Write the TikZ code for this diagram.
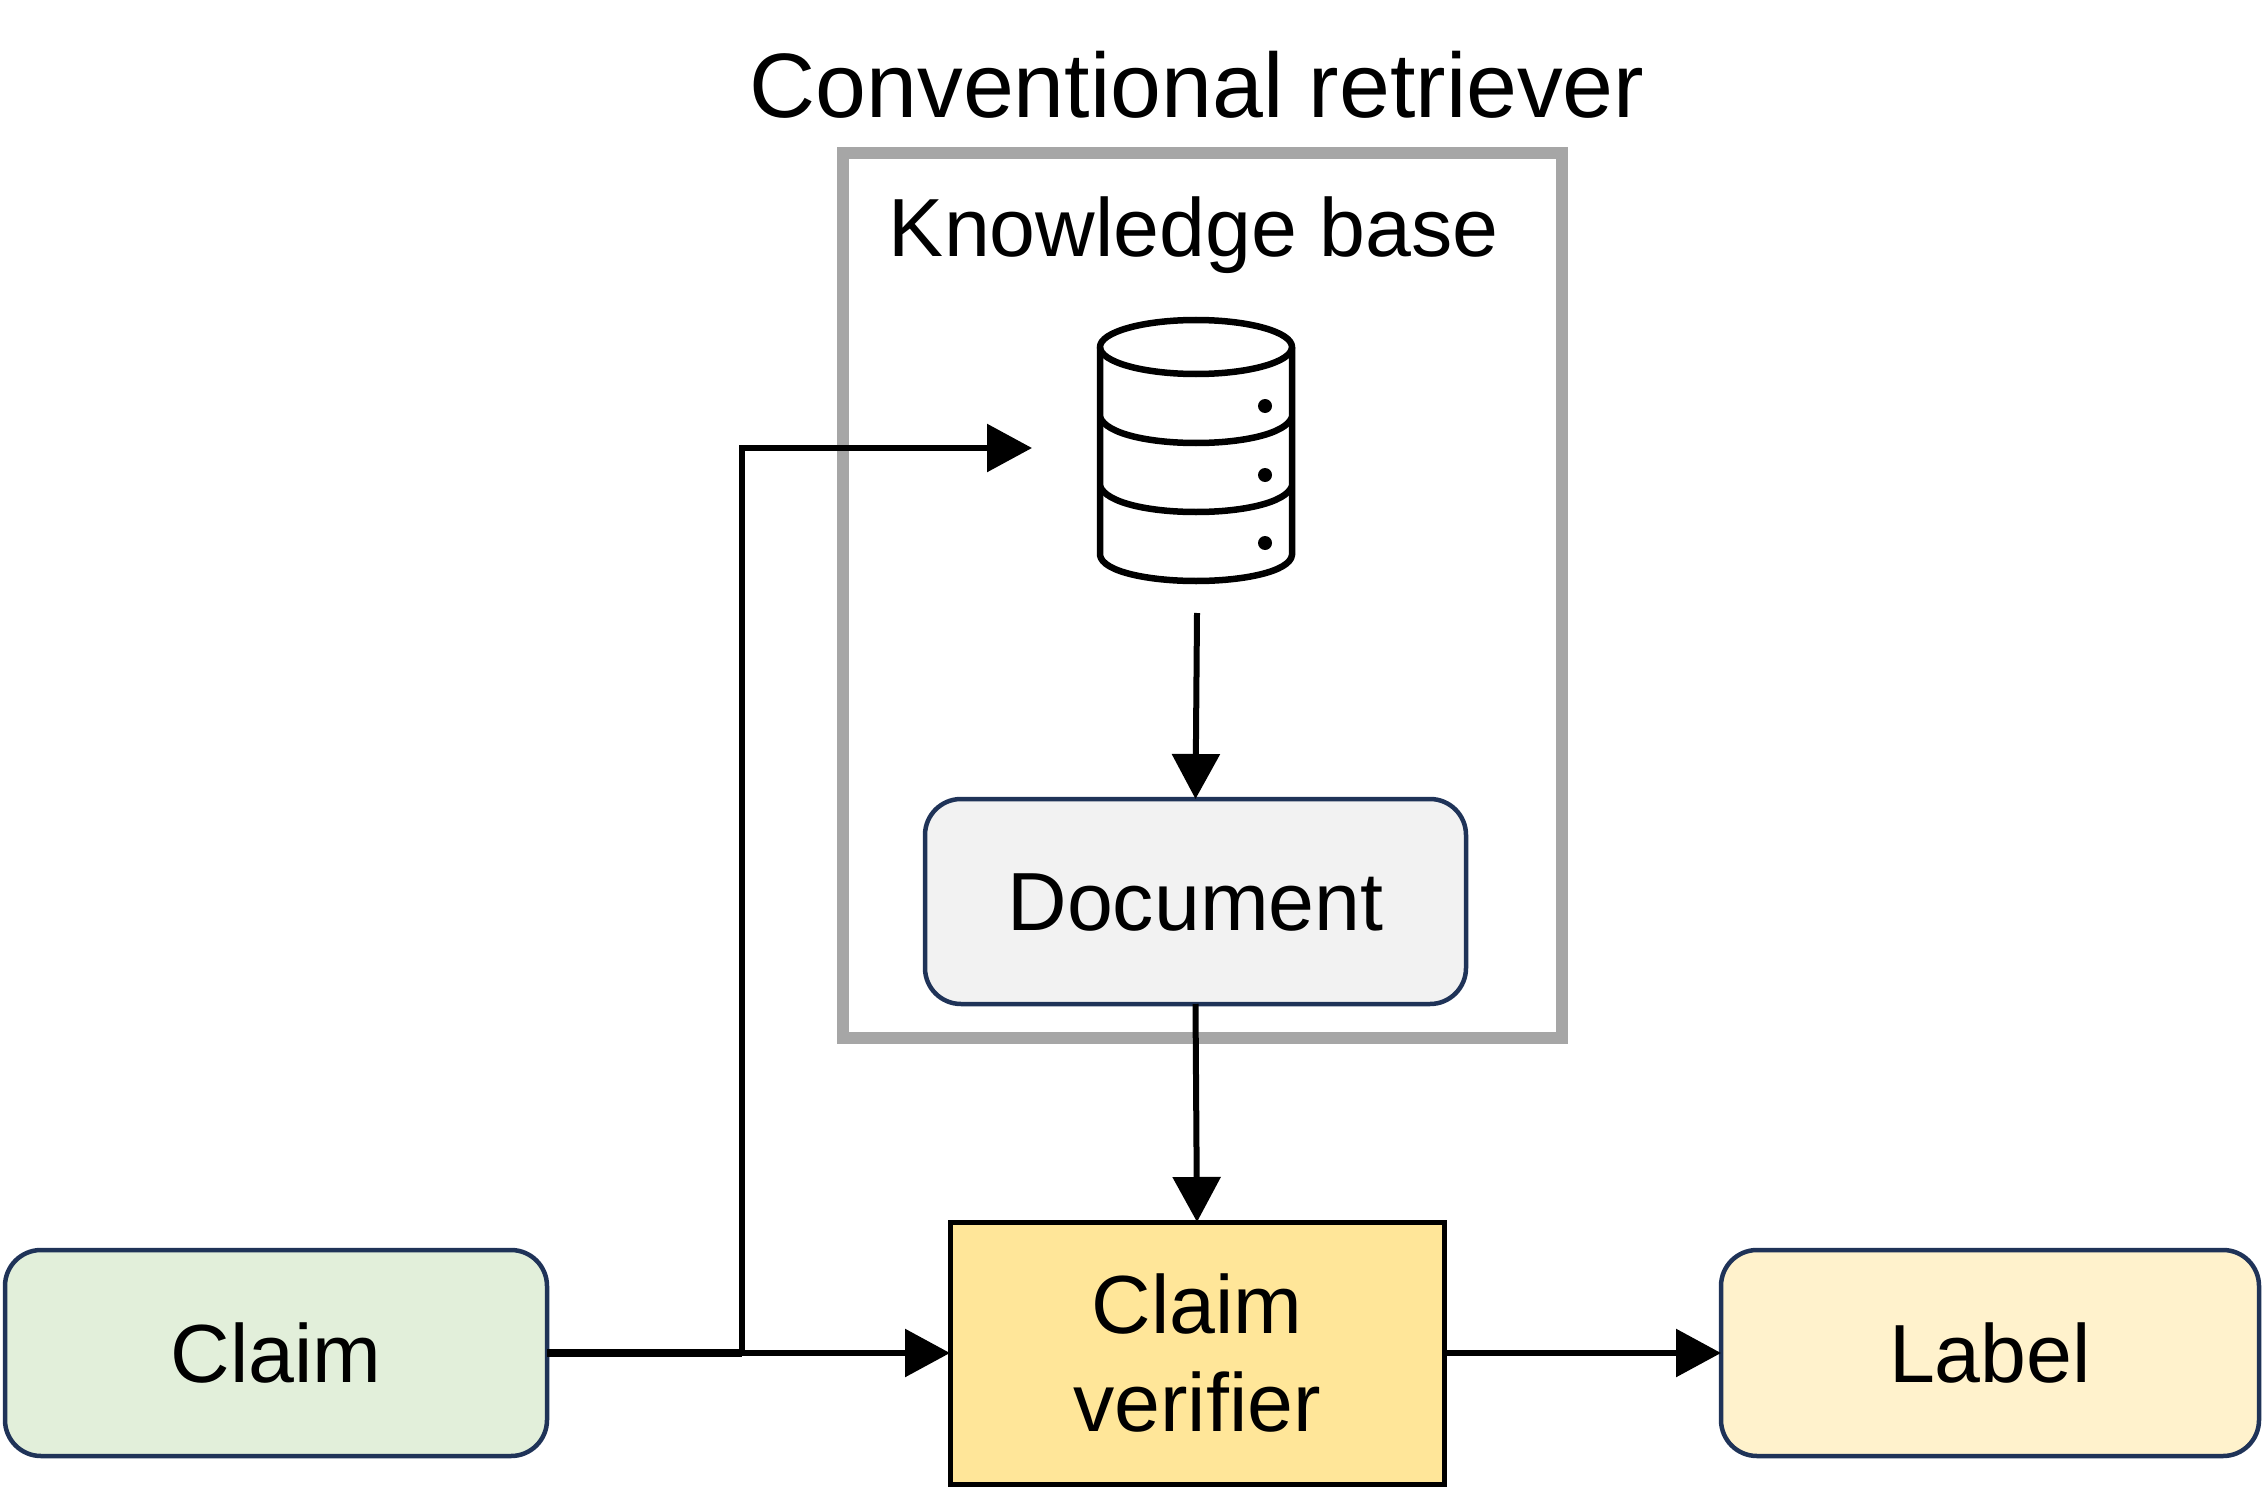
\documentclass[tikz,border=0pt]{standalone}
\usepackage{fontspec}
\setmainfont{Liberation Sans}
\usetikzlibrary{arrows.meta}
\definecolor{navy}{HTML}{1F3358}
\definecolor{frameg}{HTML}{A6A6A6}
\tikzset{
  roundbox/.style={draw=navy,line width=4.5pt,rounded corners=36pt,outer sep=0pt,inner sep=0pt,align=center,font=\fontsize{82.5}{98}\selectfont},
  flow/.style={line width=6pt,-{Triangle[length=45pt,width=47pt]}},
  dbline/.style={line width=6.5pt,line join=round},
  ghost/.style={inner sep=0pt,outer sep=0pt,minimum width=330pt,minimum height=330pt},
  caption/.style={inner sep=0pt,outer sep=0pt,anchor=base},
}
\begin{document}
\begin{tikzpicture}[x=1pt,y=-1pt]
\useasboundingbox (0,0) rectangle (2264,1503);
\fill[white] (0,0) rectangle (2264,1503);
% frame
\draw[frameg,line width=12pt] (843,153) rectangle (1562,1038);
\node[caption,font=\fontsize{91.5}{100}\selectfont] (title) at (1197,118) {Conventional retriever};
\node[caption,font=\fontsize{82.5}{98}\selectfont] (kb) at (1194,257) {Knowledge base};
% database
\node[ghost] (db) at (1197,448) {};
\draw[dbline] (1196,347) ellipse [x radius=96,y radius=27];
\draw[dbline] (1100,347) -- (1100,555) .. controls (1102,572) and (1150,581) .. (1196,581) .. controls (1242,581) and (1290,572) .. (1292,555) -- (1292,347);
\draw[dbline] (1100,417) .. controls (1106,434) and (1150,443) .. (1196,443) .. controls (1242,443) and (1286,434) .. (1292,417);
\draw[dbline] (1100,486) .. controls (1106,503) and (1150,512) .. (1196,512) .. controls (1242,512) and (1286,503) .. (1292,486);
\fill (1265,406) circle [radius=7];
\fill (1265,475) circle [radius=7];
\fill (1265,543) circle [radius=7];
% boxes
\node[roundbox,fill=black!5,minimum width=541pt,minimum height=205pt,text depth=0pt] (doc) at (1195.5,901.5) {\raisebox{-2pt}{Document}};
\node[roundbox,fill={rgb,255:red,226;green,239;blue,218},minimum width=542pt,minimum height=206pt] (claim) at (276,1353) {\raisebox{-2pt}{Claim}};
\node[roundbox,fill={rgb,255:red,255;green,242;blue,204},minimum width=538pt,minimum height=206pt] (label) at (1990,1353) {\raisebox{-1pt}{Label}};
\node[roundbox,draw=black,line width=5pt,rounded corners=0pt,fill={rgb,255:red,255;green,230;blue,153},minimum width=494pt,minimum height=262pt] (ver) at (1197,1353) {\raisebox{-2pt}{Claim}\\\raisebox{-2pt}{verifier}};
% connectors
\coordinate (junction) at (742,1353);
\coordinate (bend) at (742,448);
\draw[line width=8pt] (claim.east) -- (junction);
\draw[flow] (junction) -- (ver.west);
\draw[flow] (junction) -- (bend) -- (db.west);
\draw[flow] (db.south) -- (doc.north);
\draw[flow] (doc.south) -- (ver.north);
\draw[flow] (ver.east) -- (label.west);
\end{tikzpicture}
\end{document}
